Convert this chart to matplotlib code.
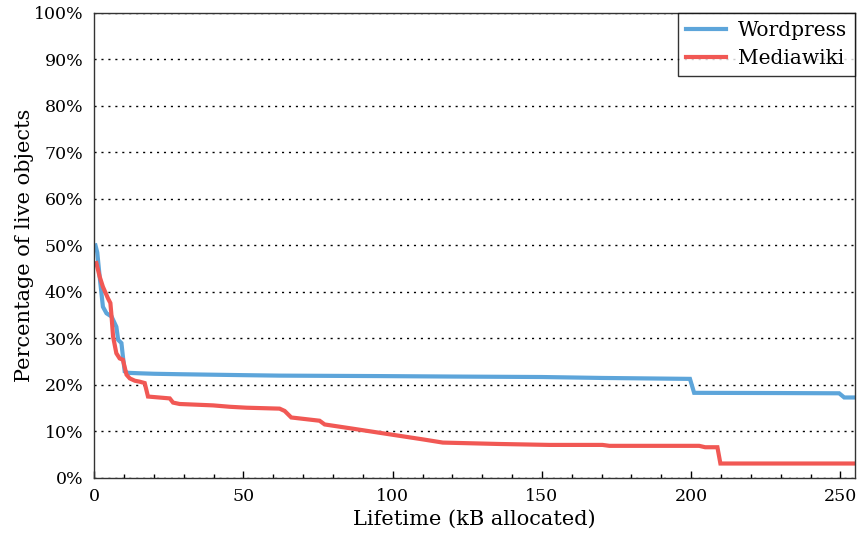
import matplotlib
matplotlib.use("Agg")
import matplotlib.pyplot as plt
from matplotlib.ticker import MultipleLocator, FuncFormatter

# Lifetime (kB allocated) vs percentage of live objects
wp_x = [0.4, 1.0, 1.8, 2.9, 4.1, 5.8, 7.4, 8.0, 9.1, 9.6, 10.2, 11.3, 15.2, 20, 28.6,
        50, 62, 95.6, 120, 150, 170, 199.6, 201, 230, 249.6, 251.3, 255]
wp_y = [50.0, 48.5, 43.3, 36.8, 35.4, 34.7, 32.5, 29.7, 29.0, 26.1, 22.9, 22.6, 22.5,
        22.4, 22.3, 22.1, 22.0, 21.9, 21.8, 21.7, 21.5, 21.3, 18.3, 18.25, 18.2, 17.3, 17.3]

mw_x = [0.7, 1.8, 2.9, 4.6, 5.4, 5.8, 6.3, 7.4, 8.5, 9.6, 10.8, 11.9, 13.6, 15.2, 16.9,
        18.0, 25.3, 26.4, 28.6, 39.8, 45.4, 51, 62.1, 63.8, 66, 75.5, 77.2, 85.5, 96.7,
        110, 116.8, 135.7, 152.5, 170.3, 172.6, 202.7, 204.7, 208.8, 209.8, 255]
mw_y = [46.2, 43.3, 41.1, 38.6, 37.6, 34.7, 30.4, 26.8, 25.7, 25.4, 22.2, 21.4, 20.9,
        20.7, 20.4, 17.5, 17.1, 16.2, 15.9, 15.6, 15.3, 15.1, 14.9, 14.4, 13.0, 12.3,
        11.5, 10.7, 9.6, 8.3, 7.6, 7.3, 7.1, 7.1, 6.9, 6.9, 6.6, 6.6, 3.1, 3.1]

series_names = ["Wordpress", "Mediawiki"]
colors = ["#5DA5DA", "#F15854"]

plt.rcParams["font.family"] = ["DejaVu Serif"]

fig = plt.figure(figsize=(8.57, 5.37), dpi=100)
ax = fig.add_axes([0.110, 0.110, 0.888, 0.866])

ax.plot(wp_x, wp_y, color=colors[0], lw=3.0, label=series_names[0], solid_joinstyle="miter")
ax.plot(mw_x, mw_y, color=colors[1], lw=3.0, label=series_names[1], solid_joinstyle="miter")

ax.set_xlim(0, 255)
ax.set_ylim(0, 100)
ax.xaxis.set_major_locator(MultipleLocator(50))
ax.xaxis.set_minor_locator(MultipleLocator(10))
ax.yaxis.set_major_locator(MultipleLocator(10))
ax.yaxis.set_major_formatter(FuncFormatter(lambda v, p: f"{int(v)}%"))

ax.tick_params(axis="x", which="major", direction="in", length=5, width=1, labelsize=12.5, pad=7)
ax.tick_params(axis="x", which="minor", direction="in", length=3, width=1)
ax.tick_params(axis="y", which="major", length=0, labelsize=12.5, pad=8)

ax.yaxis.grid(True, linestyle=(0, (1.5, 3.5)), color="black", linewidth=1.0)
ax.set_axisbelow(True)
for s in ax.spines.values():
    s.set_linewidth(1.0)
    s.set_color("#333333")

ax.set_xlabel("Lifetime (kB allocated)", fontsize=15, labelpad=4)
ax.set_ylabel("Percentage of live objects", fontsize=15, labelpad=0)

leg = ax.legend(loc="upper right", fontsize=14.5, frameon=True, fancybox=False,
                edgecolor="black", handlelength=2.0, handletextpad=0.6,
                borderaxespad=0.0, borderpad=0.4, labelspacing=0.45)
leg.get_frame().set_linewidth(1.0)

fig.savefig("out.png", dpi=100)
